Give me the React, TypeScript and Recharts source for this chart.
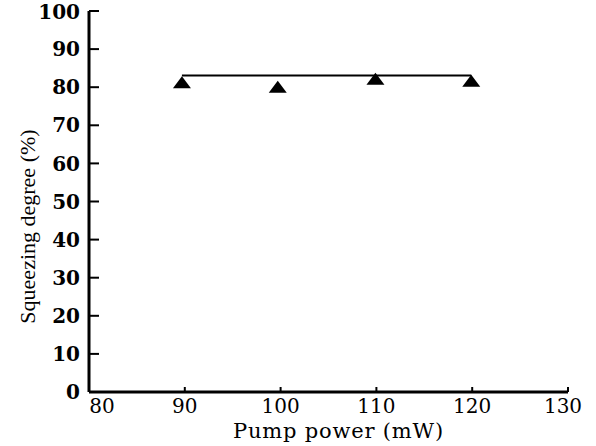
import {
  ComposedChart,
  Scatter,
  Line,
  XAxis,
  YAxis,
} from "recharts";

// measured points (pump power mW, squeezing degree %)
const pumpPower = [89.7, 99.7, 109.9, 119.9];
const squeezing = [81.0, 79.8, 81.9, 81.4];

// fitted horizontal line
const fitPower = [89.7, 119.9];
const fitLevel = [83.1, 83.1];

const xTicks = [80, 90, 100, 110, 120, 130];
const yTicks = [0, 10, 20, 30, 40, 50, 60, 70, 80, 90, 100];

const points = pumpPower.map((p, i) => ({ x: p, y: squeezing[i] }));
const fit = fitPower.map((p, i) => ({ x: p, y: fitLevel[i] }));

const serif = "'DejaVu Serif', serif";
const narrowSerif = "'Liberation Serif', serif";

function Triangle(props: { cx?: number; cy?: number }) {
  const { cx = 0, cy = 0 } = props;
  const w = 9;
  const h = 12;
  const d = `M${cx},${cy - h * 0.6} L${cx + w},${cy + h * 0.4} L${cx - w},${cy + h * 0.4} Z`;
  return <path d={d} fill="#000" />;
}

// first label is nudged right so it clears the y-axis "0"
function XTick(props: any) {
  const { x, y, payload, index } = props;
  const first = index === 0;
  const last = index === xTicks.length - 1;
  return (
    <text
      x={first ? x + 13 : last ? x - 5 : x}
      y={y}
      dy="0.71em"
      textAnchor="middle"
      fill="#000"
      fontSize={20}
      fontFamily={serif}
    >
      {payload.value}
    </text>
  );
}

export default function App() {
  return (
    <div style={{ position: "absolute", left: 0, top: 0, background: "#fff" }}>
      <ComposedChart
        width={596}
        height={446}
        margin={{ top: 11, right: 28, bottom: 0, left: 0 }}
      >
        <XAxis
          xAxisId="b"
          type="number"
          dataKey="x"
          domain={[80, 130]}
          ticks={xTicks}
          height={54}
          stroke="#000"
          axisLine={{ strokeWidth: 3 }}
          tickSize={-5}
          tickMargin={12}
          tickLine={{ strokeWidth: 2 }}
          tick={<XTick />}
          label={{
            value: "Pump power (mW)",
            position: "insideBottom",
            offset: 8,
            dx: 10,
            style: { fill: "#000", fontSize: 21, fontFamily: serif, letterSpacing: 0.8 },
          }}
        />
        <XAxis
          xAxisId="t"
          orientation="top"
          type="number"
          domain={[80, 130]}
          height={0}
          tick={false}
          tickLine={false}
          stroke="#000"
          axisLine={{ strokeWidth: 2 }}
        />
        <YAxis
          yAxisId="l"
          type="number"
          dataKey="y"
          domain={[0, 100]}
          ticks={yTicks}
          width={89}
          stroke="#000"
          axisLine={{ strokeWidth: 3 }}
          tickSize={-10}
          tickMargin={19}
          tickLine={{ strokeWidth: 2 }}
          tick={{
            fill: "#000",
            fontSize: 20,
            fontWeight: "bold",
            fontFamily: serif,
          }}
          label={{
            value: "Squeezing degree (%)",
            angle: -90,
            position: "insideLeft",
            offset: 27,
            dy: 25,
            style: {
              fill: "#000",
              fontSize: 22,
              fontFamily: narrowSerif,
              textAnchor: "middle",
            },
          }}
        />
        <YAxis
          yAxisId="r"
          orientation="right"
          type="number"
          domain={[0, 100]}
          width={0}
          tick={false}
          tickLine={false}
          stroke="#000"
          axisLine={{ strokeWidth: 2 }}
        />
        <Line
          xAxisId="b"
          yAxisId="l"
          data={fit}
          dataKey="y"
          type="linear"
          stroke="#000"
          strokeWidth={2}
          dot={false}
          activeDot={false}
          isAnimationActive={false}
        />
        <Scatter
          xAxisId="b"
          yAxisId="l"
          data={points}
          dataKey="y"
          shape={<Triangle />}
          isAnimationActive={false}
        />
      </ComposedChart>
    </div>
  );
}
